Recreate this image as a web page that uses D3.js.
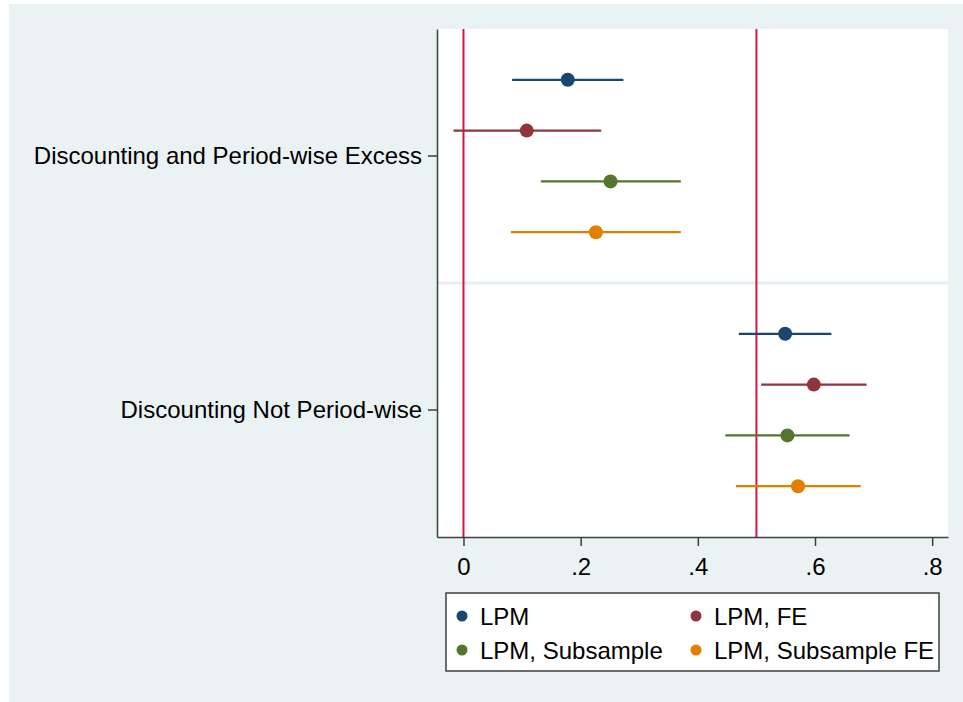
<!DOCTYPE html>
<html>
<head>
<meta charset="utf-8">
<style>
  body { margin: 0; background: #fff; }
  svg { display: block; font-family: "Liberation Sans", Arial, sans-serif; }
</style>
</head>
<body>
<svg width="963" height="702"></svg>
<script src="https://d3js.org/d3.v7.min.js"></script>
<script>
// categories, top to bottom
var categories = ["Discounting and Period-wise Excess", "Discounting Not Period-wise"];
var series = ["LPM", "LPM, FE", "LPM, Subsample", "LPM, Subsample FE"];
var colors = ["#1a476f", "#90353b", "#55752f", "#e37e00"];

// point estimates, [category][series]
var estimates = [
    [0.178, 0.108, 0.251, 0.226],
    [0.549, 0.598, 0.553, 0.571]
];
// confidence interval bounds
var lower = [
    [0.083, -0.017, 0.132, 0.081],
    [0.470, 0.508, 0.447, 0.465]
];
var upper = [
    [0.273, 0.235, 0.371, 0.371],
    [0.628, 0.688, 0.659, 0.678]
];
var xTicks = [0, 0.2, 0.4, 0.6, 0.8];
var refLines = [0, 0.5];

var svg = d3.select("svg"),
    width = +svg.attr("width"),
    height = +svg.attr("height");

var plot = {left: 437, right: 948, top: 29, bottom: 537};

// graph region background
svg.append("rect")
    .attr("x", 9).attr("y", 4)
    .attr("width", width - 9).attr("height", height - 4)
    .attr("fill", "#eaf2f3");

svg.append("rect")
    .attr("x", plot.left).attr("y", plot.top)
    .attr("width", plot.right - plot.left).attr("height", plot.bottom - plot.top)
    .attr("fill", "#fff");

var x = d3.scaleLinear()
    .domain([-0.0452, 0.827])
    .range([plot.left, plot.right]);

var y = d3.scaleBand()
    .domain(categories)
    .range([plot.top, plot.bottom]);

var inner = d3.scalePoint()
    .domain(series)
    .range([0, y.bandwidth()])
    .padding(1);

// separator between groups
svg.append("line")
    .attr("x1", plot.left).attr("x2", plot.right)
    .attr("y1", y(categories[1])).attr("y2", y(categories[1]))
    .attr("stroke", "#e4eef0")
    .attr("stroke-width", 3);

// reference lines
svg.selectAll(".ref")
    .data(refLines)
    .enter().append("line")
    .attr("class", "ref")
    .attr("x1", function(d) { return x(d); })
    .attr("x2", function(d) { return x(d); })
    .attr("y1", plot.top).attr("y2", plot.bottom)
    .attr("stroke", "#d3163f")
    .attr("stroke-width", 2);

// build rows
var rows = [];
categories.forEach(function(c, i) {
    series.forEach(function(s, j) {
        rows.push({
            cat: c, ser: s, color: colors[j],
            est: estimates[i][j], lo: lower[i][j], hi: upper[i][j]
        });
    });
});

var g = svg.append("g");
g.selectAll(".ci")
    .data(rows)
    .enter().append("line")
    .attr("class", "ci")
    .attr("x1", function(d) { return x(d.lo); })
    .attr("x2", function(d) { return x(d.hi); })
    .attr("y1", function(d) { return y(d.cat) + inner(d.ser); })
    .attr("y2", function(d) { return y(d.cat) + inner(d.ser); })
    .attr("stroke", function(d) { return d.color; })
    .attr("stroke-width", 2.2);

g.selectAll(".pt")
    .data(rows)
    .enter().append("circle")
    .attr("class", "pt")
    .attr("cx", function(d) { return x(d.est); })
    .attr("cy", function(d) { return y(d.cat) + inner(d.ser); })
    .attr("r", 7)
    .attr("fill", function(d) { return d.color; });

// axes
var xAxis = d3.axisBottom(x)
    .tickValues(xTicks)
    .tickSize(9)
    .tickSizeOuter(0)
    .tickPadding(12)
    .tickFormat(function(d) { return d === 0 ? "0" : d3.format(".1f")(d).replace(/^0/, ""); });

var gx = svg.append("g")
    .attr("transform", "translate(0," + plot.bottom + ")")
    .call(xAxis);

var yAxis = d3.axisLeft(y)
    .tickSize(9)
    .tickSizeOuter(0)
    .tickPadding(6);

var gy = svg.append("g")
    .attr("transform", "translate(" + plot.left + ",0)")
    .call(yAxis);

[gx, gy].forEach(function(a) {
    a.select(".domain").attr("stroke", "#3f3f3f").attr("stroke-width", 1.5);
    a.selectAll(".tick line").attr("stroke", "#3f3f3f").attr("stroke-width", 1.5);
    a.selectAll(".tick text")
        .attr("fill", "#000")
        .style("font-family", "'Liberation Sans', Arial, sans-serif")
        .style("font-size", "24px");
});

// legend
var legend = svg.append("g");
legend.append("rect")
    .attr("x", 446).attr("y", 593)
    .attr("width", 493).attr("height", 78)
    .attr("fill", "#fff")
    .attr("stroke", "#404040")
    .attr("stroke-width", 1.5);

var colX = [462, 696],
    rowY = [616, 650];

var items = legend.selectAll(".item")
    .data(series)
    .enter().append("g")
    .attr("class", "item")
    .attr("transform", function(d, i) {
        return "translate(" + colX[i % 2] + "," + rowY[Math.floor(i / 2)] + ")";
    });

items.append("circle")
    .attr("r", 5.5)
    .attr("fill", function(d, i) { return colors[i]; });

items.append("text")
    .attr("x", 18)
    .attr("dy", "0.36em")
    .style("font-size", "24px")
    .attr("fill", "#000")
    .text(function(d) { return d; });
</script>
</body>
</html>
